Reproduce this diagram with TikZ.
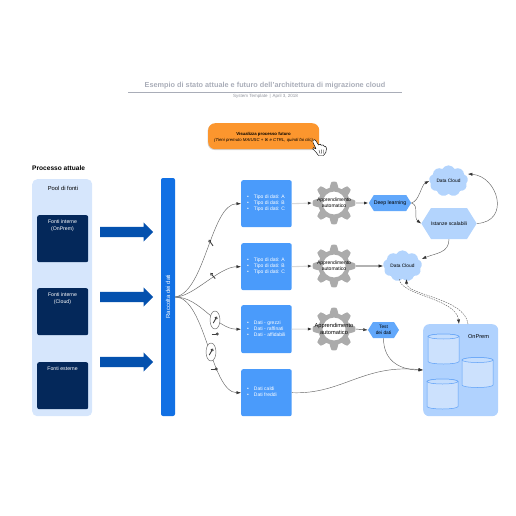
\documentclass[tikz,border=0pt]{standalone}
\usepackage{fontspec}
\setmainfont{Liberation Sans}
\newfontfamily\symfont{DejaVu Sans}
\usetikzlibrary{arrows.meta,shapes.geometric,shapes.symbols,shapes.arrows,shadows}
\definecolor{poolc}{HTML}{D6E6FC}
\definecolor{darkc}{HTML}{04285A}
\definecolor{arrowc}{HTML}{0451AE}
\definecolor{barc}{HTML}{1170E4}
\definecolor{boxc}{HTML}{4A9BFB}
\definecolor{hexc}{HTML}{62A8FB}
\definecolor{cloudc}{HTML}{B3D4FD}
\definecolor{premc}{HTML}{B0D2FE}
\definecolor{cylc}{HTML}{CCE1FD}
\definecolor{cyle}{HTML}{5DA0F7}
\definecolor{orangec}{HTML}{FC962E}
\definecolor{gearc}{HTML}{ABABAB}
\definecolor{titlec}{HTML}{A9ADB8}
\definecolor{linec}{HTML}{666666}
\tikzset{
 x=1pt,y=-1pt,
 box/.style={rectangle,rounded corners=2pt,inner sep=0pt,anchor=north west},
 poolbox/.style={box,fill=poolc,rounded corners=5pt,minimum width=60pt,minimum height=237pt},
 darkbox/.style={box,fill=darkc,minimum width=51pt,minimum height=47pt},
 darklabel/.style={text=white,font=\fontsize{5.2}{7}\selectfont,align=center,anchor=north},
 databox/.style={box,fill=boxc,minimum width=50.5pt,minimum height=47pt},
 bullets/.style={text=white,font=\fontsize{5}{6}\selectfont,align=left,anchor=west,inner sep=0pt},
 bigarrow/.style={single arrow,fill=arrowc,minimum height=53pt,single arrow head extend=4.5pt,single arrow tip angle=90,inner sep=0pt,anchor=west},
 hexa/.style={signal,signal to=east and west,signal pointer angle=116,inner sep=0pt,text=black,align=center},
 cloudn/.style={cloud,cloud puffs=9,cloud puff arc=120,aspect=1.3,fill=cloudc,inner sep=0pt,minimum width=39pt,minimum height=30pt,font=\fontsize{4.8}{6}\selectfont},
 conn/.style={draw=linec,line width=.45pt,-{Latex[length=4.5pt,width=3.2pt,color=black!80]}},
 dconn/.style={conn,dash pattern=on 1.6pt off 1pt},
 band/.style={draw=black!15,line width=1.1pt,-{Latex[length=4.5pt,width=3.2pt,color=black!80]}},
 gearpic/.pic={
  \fill[gearc,even odd rule] plot[domain=0:360,samples=361] ({(18.5+2.8*max(min(1.6*cos(8*\x),1),-1))*cos(\x)},{(18.5+2.8*max(min(1.6*cos(8*\x),1),-1))*sin(\x)}) -- cycle
   (11.5,0) arc[start angle=0,end angle=360,radius=11.5pt];
 },
 cylpic/.pic={
  \draw[cyle,line width=.5pt,fill=cylc] (-15.5,-12.5) -- (-15.5,12.5) arc[start angle=180,end angle=360,x radius=15.5pt,y radius=2.5pt] -- (15.5,-12.5) arc[start angle=0,end angle=180,x radius=15.5pt,y radius=2.5pt] -- cycle;
  \draw[cyle,line width=.5pt,fill=cylc!70!premc] (0,-12.5) ellipse[x radius=15.5pt,y radius=2.5pt];
 },
 keypic/.pic={
  \draw[black!75,line width=.9pt] (-3.5,0) -- (1.2,0);
  \draw[black!75,line width=.8pt] (2.3,0) circle[radius=1.1pt];
 },
 ovalmark/.style={ellipse,draw=linec,line width=.45pt,fill=white,minimum width=10pt,minimum height=18pt,inner sep=0pt},
}
\begin{document}
\begin{tikzpicture}
\useasboundingbox (0,0) rectangle (516,516);
% header
\node[font=\fontsize{7.3}{8}\selectfont\bfseries,text=titlec] (title) at (265,86) {Esempio di stato attuale e futuro dell'architettura di migrazione cloud};
\coordinate (rl) at (128,92); \coordinate (rr) at (402,92);
\draw[titlec,line width=.6pt] (rl) -- (rr);
\node[font=\fontsize{4.5}{5}\selectfont,text=titlec!85!black] (sub) at (265.5,96) {System Template\hspace{2pt}|\hspace{2pt}April 3, 2018};
% button
\node[box,fill=orangec,rounded corners=7pt,minimum width=111pt,minimum height=26pt,drop shadow={shadow xshift=-.6pt,shadow yshift=-.8pt,opacity=.35}] (btn) at (208,123) {};
\node[align=center,inner sep=0pt,font=\fontsize{4.3}{6.2}\selectfont] (btntxt) at (263.5,137) {\textbf{Visualizza processo futuro}\\\textit{(Tieni premuto MAIUSC + {\symfont\upshape\fontsize{3.8}{4}\selectfont ⌘} e CTRL, quindi fai clic)}};
% hand
\path[fill=white,draw=black,line width=.45pt,line join=round]
 (313,140.5) .. controls (314,139) and (315.5,139.5) .. (316,141) -- (318.5,145)
 .. controls (319.5,143.5) and (321,144) .. (321.3,145.3)
 .. controls (322.5,144.3) and (324,145) .. (324.2,146.3)
 .. controls (325.5,145.8) and (326.5,147) .. (326.5,148.5)
 .. controls (326.7,151) and (325.5,154) .. (323.5,155.5)
 -- (318.5,155.5) .. controls (317,153) and (315,151) .. (312.8,149)
 .. controls (312,147.5) and (314,147) .. (316,148.8) -- (313,142.5) -- cycle;
\draw[black,line width=.3pt] (319,150) -- (320,153.5) (321.3,149.5) -- (321.8,153.5) (323.7,149.5) -- (323.7,153.5);
% left column
\node[anchor=west,inner sep=0pt,font=\fontsize{6.6}{8}\selectfont\bfseries] (proc) at (32,168) {Processo attuale};
\node[poolbox] (pool) at (32,179) {};
\node[font=\fontsize{5.8}{7}\selectfont] (pooltxt) at (63,188) {Pool di fonti};
\node[darkbox] (f1) at (37,215) {};
\node[darkbox] (f2) at (37,288) {};
\node[darkbox] (f3) at (37,362) {};
\node[darklabel] (f1t) at (62.5,216) {Fonti interne\\(OnPrem)};
\node[darklabel] (f2t) at (62.5,289) {Fonti interne\\(Cloud)};
\node[darklabel] (f3t) at (62.5,363) {Fonti esterne};
\node[bigarrow] (a1) at (100,232) {\rule{0pt}{10pt}};
\node[bigarrow] (a2) at (100,297) {\rule{0pt}{10pt}};
\node[bigarrow] (a3) at (100,362) {\rule{0pt}{10pt}};
% bar
\node[box,anchor=center,fill=barc,minimum width=14pt,minimum height=238pt] (bar) at (168,297) {};
\node[rotate=90,text=white,font=\fontsize{5.9}{7}\selectfont] (bart) at (168,296.5) {Raccolta dei dati};
% data boxes
\node[databox] (b1) at (241,180) {};
\node[databox] (b2) at (241,243) {};
\node[databox,minimum height=48pt] (b3) at (241,305) {};
\node[databox] (b4) at (241,369) {};
\foreach \n/\y/\a/\b/\c in {l1/203/Tipo di dati: A/Tipo di dati: B/Tipo di dati: C,l2/266/Tipo di dati: A/Tipo di dati: B/Tipo di dati: C,l3/329/Dati - grezzi/Dati - raffinati/Dati - affidabili}
 \node[bullets] (\n) at (247,\y) {\textbullet\hspace{5pt}\a\\\textbullet\hspace{5pt}\b\\\textbullet\hspace{5pt}\c};
\node[bullets] (l4) at (247,392) {\textbullet\hspace{5pt}Dati caldi\\\textbullet\hspace{5pt}Dati freddi};
% gears
\pic at (334,203) {gearpic};
\pic at (334,266) {gearpic};
\pic at (334,329) {gearpic};
\node[align=center,inner sep=0pt,minimum width=43pt,minimum height=42pt,font=\fontsize{5}{6}\selectfont] (g1) at (334,203) {Apprendimento\\automatico};
\node[align=center,inner sep=0pt,minimum width=43pt,minimum height=42pt,font=\fontsize{5}{6}\selectfont] (g2) at (334,266) {Apprendimento\\automatico};
\node[align=center,inner sep=0pt,minimum width=43pt,minimum height=42pt,font=\fontsize{5.7}{7}\selectfont] (g3) at (334,329) {Apprendimento\\automatico};
% right nodes
\node[hexa,fill=hexc,minimum width=40pt,minimum height=16pt,font=\fontsize{5.2}{6}\selectfont] (deep) at (390,203) {Deep learning};
\node[cloudn] (c1) at (448.5,181) {Data Cloud};
\node[hexa,fill=cloudc,minimum width=38pt,minimum height=31pt,font=\fontsize{5.1}{6}\selectfont] (scal) at (449,223.5) {Istanze scalabili};
\node[cloudn] (c2) at (402.5,266) {Data Cloud};
\node[hexa,fill=hexc,minimum width=31pt,minimum height=16pt,font=\fontsize{4.8}{6.5}\selectfont] (test) at (383.5,330) {Test\\dei dati};
\node[box,fill=premc,rounded corners=6pt,minimum width=75pt,minimum height=92pt] (prem) at (423,324) {};
\node[font=\fontsize{5.6}{7}\selectfont] (premt) at (478.5,337) {OnPrem};
\pic at (443.5,349) {cylpic};
\pic at (477.5,372.5) {cylpic};
\pic at (442.5,394) {cylpic};
% connectors
\draw[conn] (bar.east) .. controls +(30,-5) and +(-30,0) .. (b1.west);
\draw[conn] (bar.east) .. controls +(18,0) and +(-22,0) .. (b2.west);
\draw[conn] (bar.east) .. controls +(25,0) and +(-25,0) .. (b3.west);
\draw[conn] (bar.east) .. controls +(30,0) and +(-30,0) .. (b4.west);
\draw[band] (b1.east) -- (g1.west);
\draw[band] (b2.east) -- (g2.west);
\draw[band] (b3.east) -- (g3.west);
\draw[band] (g1.east) -- (deep.west);
\draw[draw=black!85,line width=.6pt,-{Latex[length=4.5pt,width=3.2pt]}] (g2.east) -- (c2.west);
\draw[draw=black!75,line width=.45pt,-{Latex[length=4.5pt,width=3.2pt]}] (g3.east) -- (test.west);
\draw[conn] (deep.east) .. controls +(8,-2) and +(-8,4) .. (c1.west);
\draw[conn] (deep.east) .. controls +(8,2) and +(-8,-6) .. (scal.west);
\draw[conn] (scal.east) .. controls +(34,-2) and +(30,2) .. ([yshift=7pt]c1.east);
\draw[conn] (scal.south) .. controls +(0,14) and +(14,-6) .. ([yshift=7pt]c2.east);
\draw[dconn] ([xshift=-3pt]c2.south) .. controls +(0,16) and +(-3,-26) .. ([xshift=36pt]prem.north west);
\draw[dconn] ([xshift=45pt]prem.north west) .. controls +(-3,-26) and +(0,16) .. ([xshift=4pt]c2.south);
\draw[conn] (test.south) .. controls +(0,25) and +(-20,0) .. ([yshift=-46pt]prem.north west);
\draw[conn] (b4.east) .. controls +(50,2) and +(-60,-6) .. ([yshift=-46pt]prem.north west);
% keys
\path pic[rotate=125] at (211,243) {keypic};
\path pic[rotate=130] at (213,276) {keypic};
\node[ovalmark] (o1) at (215,320) {};
\node[ovalmark] (o2) at (211,352) {};
\path pic[rotate=60] at (215,320) {keypic};
\path pic[rotate=60] at (211,352) {keypic};
\path pic at (215,334) {keypic};
\path pic at (214,369) {keypic};
\end{tikzpicture}
\end{document}
